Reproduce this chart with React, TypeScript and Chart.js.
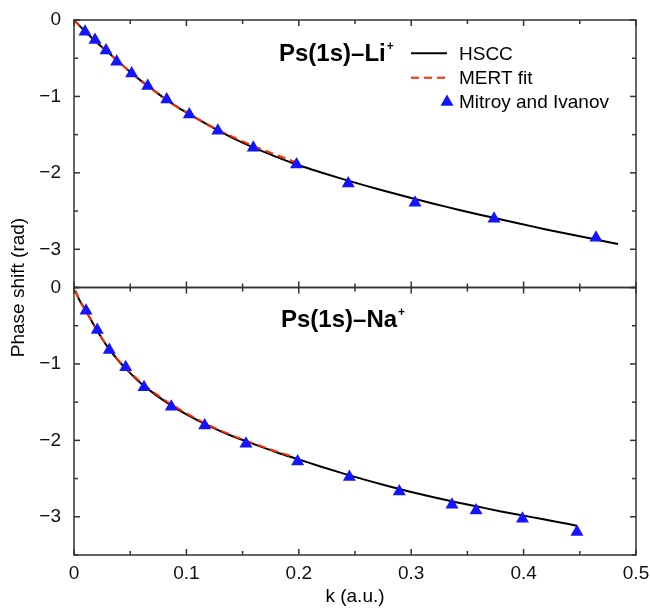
import React, { useEffect, useRef } from 'react';
import { Chart, registerables } from 'chart.js';

Chart.register(...registerables);

const FONT = '"Liberation Sans", Arial, Helvetica, sans-serif';

// ---- Ps(1s)-Li+ panel ----
const liHsccK = [0, 0.01, 0.02, 0.03, 0.04, 0.05, 0.06, 0.07, 0.08, 0.09, 0.1, 0.12, 0.14, 0.16, 0.18, 0.2, 0.22, 0.24, 0.26, 0.28, 0.3, 0.32, 0.34, 0.36, 0.38, 0.4, 0.42, 0.44, 0.46, 0.484];
const liHsccPhase = [0, -0.15, -0.29, -0.42, -0.55, -0.68, -0.8, -0.91, -1.02, -1.12, -1.21, -1.38, -1.535, -1.67, -1.79, -1.9, -1.995, -2.085, -2.17, -2.25, -2.33, -2.405, -2.475, -2.545, -2.61, -2.675, -2.74, -2.8, -2.86, -2.93];
const liMertK = [0, 0.01, 0.02, 0.03, 0.04, 0.05, 0.06, 0.07, 0.08, 0.09, 0.1, 0.12, 0.14, 0.16, 0.18, 0.197];
const liMertPhase = [0, -0.15, -0.29, -0.42, -0.55, -0.68, -0.8, -0.91, -1.02, -1.12, -1.21, -1.375, -1.52, -1.65, -1.765, -1.86];
const liMitroyK = [0.0098, 0.0187, 0.0285, 0.038, 0.0513, 0.0656, 0.0825, 0.1026, 0.128, 0.1595, 0.198, 0.244, 0.3034, 0.3737, 0.4644];
const liMitroyPhase = [-0.153, -0.262, -0.4, -0.546, -0.7, -0.865, -1.04, -1.236, -1.45, -1.673, -1.89, -2.14, -2.39, -2.6, -2.85];

// ---- Ps(1s)-Na+ panel ----
const naHsccK = [0.001, 0.005, 0.01, 0.02, 0.03, 0.04, 0.05, 0.06, 0.07, 0.08, 0.09, 0.1, 0.12, 0.14, 0.16, 0.18, 0.2, 0.22, 0.24, 0.26, 0.28, 0.3, 0.32, 0.34, 0.36, 0.38, 0.4, 0.42, 0.44, 0.4475];
const naHsccPhase = [-0.04, -0.17, -0.29, -0.55, -0.78, -0.965, -1.12, -1.26, -1.375, -1.48, -1.575, -1.66, -1.81, -1.94, -2.05, -2.155, -2.25, -2.345, -2.435, -2.52, -2.6, -2.675, -2.745, -2.81, -2.87, -2.93, -2.985, -3.04, -3.095, -3.117];
const naMertK = [0.001, 0.005, 0.01, 0.02, 0.03, 0.04, 0.05, 0.06, 0.08, 0.1, 0.12, 0.14, 0.16, 0.18, 0.194];
const naMertPhase = [-0.04, -0.17, -0.29, -0.55, -0.78, -0.96, -1.11, -1.245, -1.465, -1.645, -1.8, -1.93, -2.04, -2.145, -2.21];
const naMitroyK = [0.0107, 0.0207, 0.0314, 0.046, 0.0623, 0.0866, 0.1163, 0.153, 0.199, 0.245, 0.2894, 0.3363, 0.3577, 0.399, 0.4475];
const naMitroyPhase = [-0.305, -0.557, -0.819, -1.045, -1.306, -1.559, -1.807, -2.046, -2.277, -2.48, -2.67, -2.843, -2.917, -3.026, -3.2];

const seriesLabels = ['HSCC', 'MERT fit', 'Mitroy and Ivanov'];
const panelLabels = ['Ps(1s)\u2013Li', 'Ps(1s)\u2013Na'];
const xTickLabels = ['0', '0.1', '0.2', '0.3', '0.4', '0.5'];
const yTickLabels = ['0', '\u22121', '\u22122', '\u22123'];
const xTitle = 'k (a.u.)';
const yTitle = 'Phase shift (rad)';

const BLACK = '#000000';
const RED = '#ff2a00';
const BLUE = '#1414ff';

const pts = (k: number[], v: number[]) => k.map((x, i) => ({ x, y: v[i] }));

const panelPlugin = {
  id: 'panelDecor',
  afterDatasetsDraw(chart: any) {
    const ctx: CanvasRenderingContext2D = chart.ctx;
    const xs = chart.scales.x;
    const panels = [chart.scales.yTop, chart.scales.yBot];
    const L = xs.left;
    const R = xs.right;
    ctx.save();
    ctx.strokeStyle = '#333333';
    ctx.lineWidth = 1.5;
    const seg = (x1: number, y1: number, x2: number, y2: number) => {
      ctx.beginPath();
      ctx.moveTo(x1, y1);
      ctx.lineTo(x2, y2);
      ctx.stroke();
    };
    panels.forEach((ys: any) => {
      ctx.strokeRect(L, ys.top, R - L, ys.bottom - ys.top);
      for (let i = 0; i <= 7; i++) {
        const v = -i * 0.5;
        const p = ys.getPixelForValue(v);
        const len = i % 2 === 0 ? 6 : 4;
        seg(L, p, L + len, p);
        seg(R, p, R - len, p);
      }
      for (let i = 0; i <= 10; i++) {
        const p = xs.getPixelForValue(i * 0.05);
        const len = i % 2 === 0 ? 6 : 4;
        seg(p, ys.top, p, ys.top + len);
        seg(p, ys.bottom, p, ys.bottom - len);
      }
    });

    ctx.fillStyle = '#000';
    // panel labels
    const labelPos = [
      { x: 279, dy: 40.5 },
      { x: 281, dy: 39.5 },
    ];
    panels.forEach((ys: any, i: number) => {
      ctx.font = `bold 24px ${FONT}`;
      ctx.textAlign = 'left';
      ctx.textBaseline = 'alphabetic';
      const bx = labelPos[i].x;
      const by = ys.top + labelPos[i].dy;
      ctx.fillText(panelLabels[i], bx, by);
      const w = ctx.measureText(panelLabels[i]).width;
      ctx.font = `bold 12px ${FONT}`;
      ctx.fillText('+', bx + w + 1, by - 11);
    });

    // legend (top panel)
    const yt = panels[0];
    const rows = [yt.top + 33.3, yt.top + 57.8, yt.top + 82];
    const lx1 = 411;
    const lx2 = 447;
    const tx = 459;
    const ds = chart.data.datasets;
    ctx.font = `19px ${FONT}`;
    ctx.textAlign = 'left';
    ctx.textBaseline = 'middle';
    for (let r = 0; r < 3; r++) {
      const d = ds[r];
      if (r < 2) {
        ctx.save();
        ctx.strokeStyle = d.borderColor;
        ctx.lineWidth = d.borderWidth;
        ctx.setLineDash(d.borderDash || []);
        seg(lx1, rows[r], lx2, rows[r]);
        ctx.restore();
      } else {
        const rad = d.pointRadius;
        ctx.save();
        ctx.fillStyle = d.backgroundColor;
        ctx.beginPath();
        ctx.moveTo(lx2, rows[r] - rad);
        ctx.lineTo(lx2 + rad * Math.sqrt(3) / 2, rows[r] + rad / 2);
        ctx.lineTo(lx2 - rad * Math.sqrt(3) / 2, rows[r] + rad / 2);
        ctx.closePath();
        ctx.fill();
        ctx.restore();
      }
      ctx.fillStyle = '#000';
      ctx.fillText(d.label, tx, rows[r] + 1);
    }

    // axis titles
    ctx.font = `19px ${FONT}`;
    ctx.textAlign = 'center';
    ctx.textBaseline = 'middle';
    ctx.fillText(xTitle, (L + R) / 2, 597);
    ctx.save();
    ctx.translate(19, (panels[0].top + panels[1].bottom) / 2);
    ctx.rotate(-Math.PI / 2);
    ctx.fillText(yTitle, 0, 0);
    ctx.restore();
    ctx.restore();
  },
};

function lineDs(label: string, data: any[], color: string, axis: string, dash: number[] | undefined, order: number) {
  return {
    label,
    data,
    yAxisID: axis,
    showLine: true,
    borderColor: color,
    backgroundColor: color,
    borderWidth: 2,
    borderDash: dash,
    pointRadius: 0,
    pointHoverRadius: 0,
    cubicInterpolationMode: 'monotone',
    order,
  };
}

function pointDs(label: string, data: any[], axis: string) {
  return {
    label,
    data,
    yAxisID: axis,
    showLine: false,
    pointStyle: 'triangle',
    pointRadius: 7.5,
    pointHoverRadius: 7.5,
    backgroundColor: BLUE,
    borderColor: BLUE,
    borderWidth: 0,
    order: 0,
  };
}

const yAxis = (weight: number) => ({
  type: 'linear',
  position: 'left',
  stack: 'phase',
  stackWeight: 1,
  weight,
  min: -3.5,
  max: 0,
  grid: { display: false, drawTicks: false },
  border: { display: false },
  ticks: {
    stepSize: 0.5,
    padding: 13,
    color: '#111',
    font: { family: FONT, size: 19 },
    autoSkip: false,
    callback: (v: number) => {
      const n = Math.round(-v);
      return Math.abs(v + n) < 1e-6 && n < yTickLabels.length ? yTickLabels[n] : '';
    },
  },
  afterFit: (s: any) => {
    s.width = 74;
    s.paddingTop = 0;
    s.paddingBottom = 0;
  },
});

export default function App() {
  const ref = useRef<HTMLCanvasElement | null>(null);
  useEffect(() => {
    if (!ref.current) return;
    const chart = new Chart(ref.current, {
      type: 'scatter',
      data: {
        datasets: [
          lineDs(seriesLabels[0], pts(liHsccK, liHsccPhase), BLACK, 'yTop', undefined, 2),
          lineDs(seriesLabels[1], pts(liMertK, liMertPhase), RED, 'yTop', [8, 5], 1),
          pointDs(seriesLabels[2], pts(liMitroyK, liMitroyPhase), 'yTop'),
          lineDs(seriesLabels[0], pts(naHsccK, naHsccPhase), BLACK, 'yBot', undefined, 2),
          lineDs(seriesLabels[1], pts(naMertK, naMertPhase), RED, 'yBot', [8, 5], 1),
          pointDs(seriesLabels[2], pts(naMitroyK, naMitroyPhase), 'yBot'),
        ] as any,
      },
      options: {
        animation: false,
        responsive: false,
        devicePixelRatio: 1,
        layout: { padding: { top: 20, right: 14, left: 0, bottom: 0 } },
        plugins: { legend: { display: false }, tooltip: { enabled: false } },
        events: [],
        scales: {
          x: {
            type: 'linear',
            position: 'bottom',
            min: 0,
            max: 0.5,
            grid: { display: false, drawTicks: false },
            border: { display: false },
            ticks: {
              stepSize: 0.05,
              padding: 7,
              autoSkip: false,
              maxRotation: 0,
              color: '#111',
              font: { family: FONT, size: 19 },
              callback: (v: number) => {
                const i = Math.round(v / 0.1);
                return Math.abs(v - i * 0.1) < 1e-6 ? xTickLabels[i] : '';
              },
            },
            afterFit: (s: any) => {
              s.height = 53;
              s.paddingLeft = 0;
              s.paddingRight = 0;
            },
          },
          yTop: yAxis(2),
          yBot: yAxis(1),
        } as any,
      },
      plugins: [panelPlugin],
    });
    return () => chart.destroy();
  }, []);
  return (
    <div style={{ position: 'absolute', left: 0, top: 0, width: 650, height: 608, background: '#fff' }}>
      <canvas ref={ref} width={650} height={608} style={{ display: 'block', width: 650, height: 608 }} />
    </div>
  );
}
